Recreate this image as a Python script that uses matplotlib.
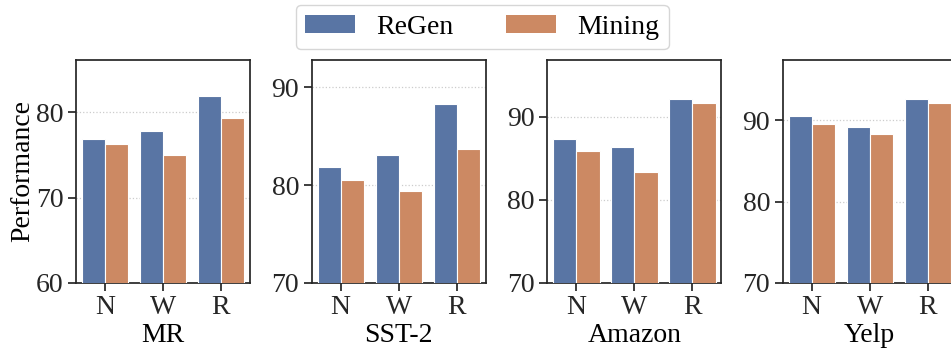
import matplotlib
matplotlib.use("Agg")
import matplotlib.pyplot as plt
import numpy as np
from matplotlib.ticker import MultipleLocator
from matplotlib.patches import Patch

datasets = ["MR", "SST-2", "Amazon", "Yelp"]
categories = ["N", "W", "R"]
regen = {
    "MR": [76.9, 77.8, 81.9],
    "SST-2": [81.9, 83.1, 88.3],
    "Amazon": [87.3, 86.3, 92.1],
    "Yelp": [90.5, 89.2, 92.6],
}
mining = {
    "MR": [76.3, 75.0, 79.3],
    "SST-2": [80.5, 79.4, 83.7],
    "Amazon": [85.9, 83.4, 91.6],
    "Yelp": [89.5, 88.3, 92.1],
}
ylims = {"MR": (60, 86.1), "SST-2": (70, 92.8), "Amazon": (70, 96.8), "Yelp": (70, 97.4)}

plt.rcParams['font.family'] = ['Liberation Serif', 'DejaVu Serif']
plt.rcParams['font.size'] = 20

c_regen = "#5975a4"
c_mining = "#cc8963"

W, H = 951, 349
fig = plt.figure(figsize=(W / 100, H / 100), dpi=100)
lefts = [76, 311.7, 547.3, 782.7]
aw, ab, ah = 174, 66, 223

x = np.arange(len(categories))
bw = 0.4
for i, ds in enumerate(datasets):
    ax = fig.add_axes([lefts[i] / W, ab / H, aw / W, ah / H])
    ax.bar(x - bw / 2, regen[ds], width=bw, color=c_regen, edgecolor="white", linewidth=0.8, zorder=3)
    ax.bar(x + bw / 2, mining[ds], width=bw, color=c_mining, edgecolor="white", linewidth=0.8, zorder=3)
    ax.set_xlim(-0.5, 2.5)
    ax.set_ylim(*ylims[ds])
    ax.yaxis.set_major_locator(MultipleLocator(10))
    ax.set_xticks(x)
    ax.set_xticklabels(categories)
    ax.set_xlabel(ds, labelpad=2)
    ax.grid(axis="y", linestyle=":", color="#cccccc", linewidth=0.9, zorder=0)
    ax.set_axisbelow(True)
    for sp in ax.spines.values():
        sp.set_color("#262626")
        sp.set_linewidth(1.25)
    ax.tick_params(axis="both", direction="out", length=6, width=1.25, color="#262626",
                   labelsize=20, pad=3, labelcolor="#262626")
    if i == 0:
        ax.set_ylabel("Performance", labelpad=0.5)

handles = [Patch(facecolor=c_regen, label="ReGen"), Patch(facecolor=c_mining, label="Mining")]
leg = fig.legend(handles=handles, loc="upper center", bbox_to_anchor=(0.507, 0.986), ncol=2,
                 frameon=True, fontsize=20, handlelength=1.8, handleheight=0.6,
                 handletextpad=0.75, columnspacing=1.9, borderpad=0.35, fancybox=True,
                 borderaxespad=0)
leg.get_frame().set_edgecolor("#cccccc")
leg.get_frame().set_linewidth(1.0)

fig.savefig("out.png", dpi=100)
